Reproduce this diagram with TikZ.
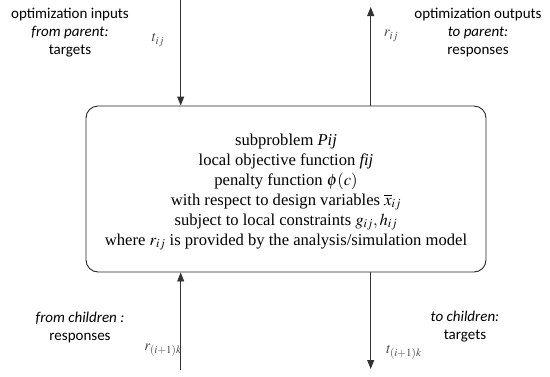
\documentclass[tikz,border=0pt]{standalone}
\usepackage{mathptmx}
\usepackage{fontspec}
\setmainfont{Liberation Serif}
\newfontfamily\lblfont{Carlito}
\usetikzlibrary{arrows.meta}
\tikzset{
  side/.style={font=\lblfont\fontsize{15}{18}\selectfont, align=center, inner sep=0pt},
  var/.style={font=\fontsize{15}{16}\selectfont, text=black!70, inner sep=0pt},
  flow/.style={draw=black!80, line width=0.9pt, -{Triangle[length=9pt,width=7pt]}},
  mainbox/.style={draw=black!85, line width=0.9pt, rounded corners=12pt, minimum width=400pt, minimum height=166pt, align=center, font=\fontsize{16.6}{20}\selectfont}
}
\begin{document}
\begin{tikzpicture}[x=1pt,y=-1pt]
\useasboundingbox (0,0) rectangle (550,376);
\node[mainbox] (box) at (286,189) {};
\node[align=center, font=\fontsize{16.6}{20}\selectfont, inner sep=0pt] (boxtext) at (286,192) {subproblem \textit{Pij}\\
local objective function \textit{fij}\\
penalty function $\phi(c)$\\
with respect to design variables $\overline{x}_{ij}$\\
subject to local constraints $g_{ij}, h_{ij}$\\
where $r_{ij}$ is provided by the analysis/simulation model};
\coordinate (tin) at (180.7,0);
\coordinate (rout) at (370.7,7);
\coordinate (rin) at (180.7,370);
\coordinate (tout) at (370.7,369);
\draw[flow] (tin) -- (tin |- box.north);
\draw[flow] (rout |- box.north) -- (rout);
\draw[flow] (rin) -- (rin |- box.south);
\draw[flow] (tout |- box.south) -- (tout);
\node[side] (pin) at (70,33) {optimization inputs\\\textit{from parent:}\\targets};
\node[side] (pout) at (478,33) {optimization outputs\\\textit{to parent:}\\responses};
\node[side] (cin) at (80,327) {\textit{from children :}\\responses};
\node[side] (cout) at (465,327) {\textit{to children:}\\targets};
\node[var] (ltij) at (158,40) {$t_{ij}$};
\node[var] (lrij) at (391,36) {$r_{ij}$};
\node[var] (lrk) at (163,350) {$r_{(i+1)k}$};
\node[var] (ltk) at (404,352) {$t_{(i+1)k}$};
\end{tikzpicture}
\end{document}
